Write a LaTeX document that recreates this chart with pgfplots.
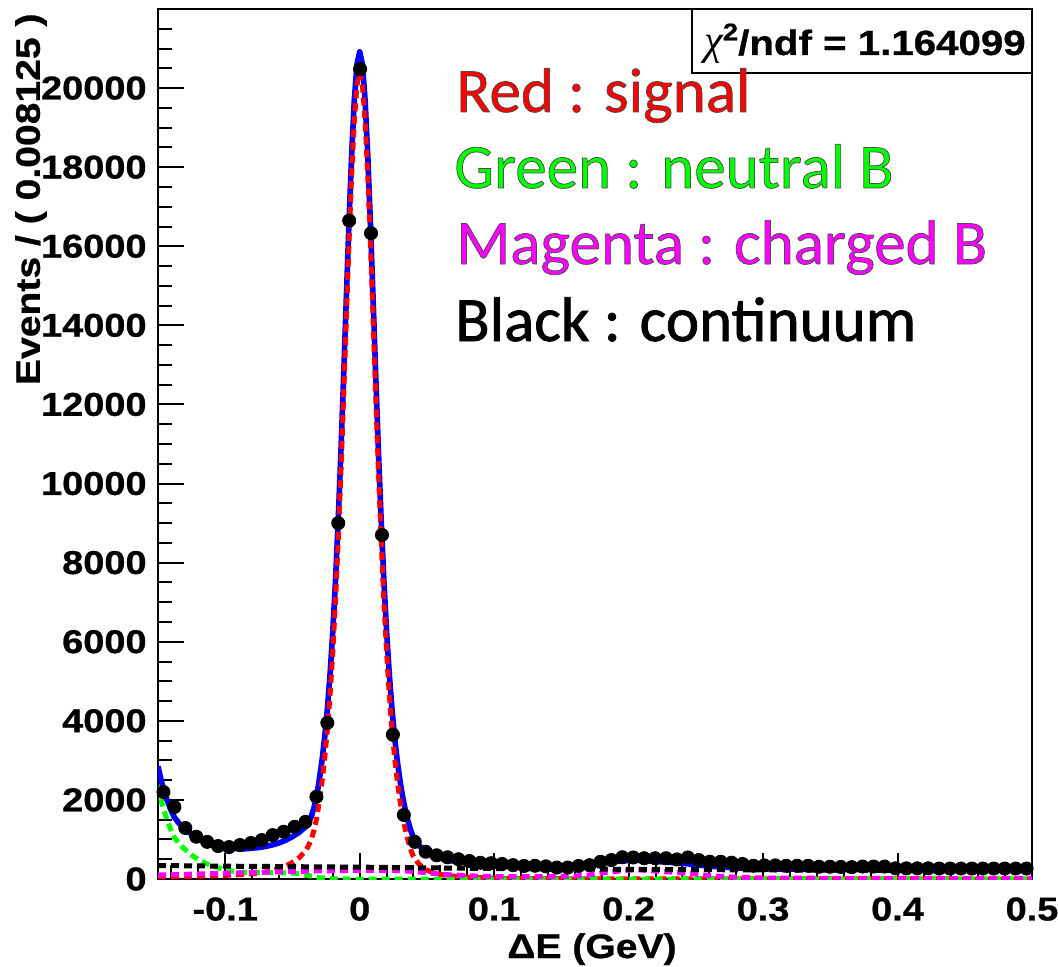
\documentclass[border=0pt]{standalone}
\usepackage{fontspec}
\usepackage{pgfplots}
\pgfplotsset{compat=1.18}
\newfontfamily\rootfont{Liberation Sans}[UprightFont={* Bold}, FakeStretch=1.15, FakeBold=0.8]
\newfontfamily\calfont{Carlito}[FakeBold=1.2]
\newfontfamily\greekfont{Liberation Serif}
\definecolor{rootred}{RGB}{255,0,0}
\definecolor{rootgreen}{RGB}{0,255,0}
\definecolor{rootmag}{RGB}{255,0,255}
\definecolor{rootblue}{RGB}{0,0,255}
\newcommand\outl{\special{pdf:literal 0.3 G}}
\begin{document}
\begin{tikzpicture}[x=1pt,y=1pt]
\useasboundingbox (0,0) rectangle (529,483);
\begin{axis}[
  at={(79pt,43.5pt)}, anchor=south west,
  width=437pt, height=435pt, scale only axis,
  xmin=-0.15, xmax=0.5, ymin=0, ymax=22000,
  scaled x ticks=false, scaled y ticks=false,
  axis line style={line width=1pt},
  tick align=inside, xtick pos=bottom, ytick pos=left,
  major tick length=13pt, minor tick length=7pt,
  every tick/.style={black, line width=1pt},
  xtick={-0.1,0,0.1,0.2,0.3,0.4,0.5},
  xticklabels={-0.1,0,0.1,0.2,0.3,0.4,0.5},
  minor xtick={-0.14,-0.12,-0.08,-0.06,-0.04,-0.02,0.02,0.04,0.06,0.08,0.12,0.14,0.16,0.18,0.22,0.24,0.26,0.28,0.32,0.34,0.36,0.38,0.42,0.44,0.46,0.48},
  ytick={0,2000,4000,6000,8000,10000,12000,14000,16000,18000,20000},
  yticklabels={0,2000,4000,6000,8000,10000,12000,14000,16000,18000,20000},
  minor ytick={500,1000,...,21500},
  xticklabel style={font=\rootfont\fontsize{16.5}{16.5}\selectfont, inner sep=0pt, anchor=north, yshift=-9pt},
  yticklabel style={font=\rootfont\fontsize{16.5}{16.5}\selectfont, inner sep=0pt, anchor=east, xshift=-5.5pt},
  clip=true,
]
% data
\addplot[only marks, mark=*, mark size=3.3pt, black, mark options={fill=black}] coordinates {
(-0.1459375,2200) (-0.1378125,1820) (-0.1296875,1290) (-0.1215625,1070) (-0.1134375,940)
(-0.1053125,833) (-0.0971875,808) (-0.0890625,859) (-0.0809375,909) (-0.0728125,985)
(-0.0646875,1110) (-0.0565625,1195) (-0.0484375,1320) (-0.0403125,1445) (-0.0321875,2080)
(-0.0240625,3950) (-0.0159375,9000) (-0.0078125,16650) (0.0003125,20480) (0.0084375,16330)
(0.0165625,8700) (0.0246875,3650) (0.0328125,1620) (0.0409375,940) (0.0490625,690)
(0.0571875,600) (0.0653125,550) (0.0734375,500) (0.0815625,455) (0.0896875,410)
(0.0978125,400) (0.1059375,380) (0.1140625,350) (0.1221875,330) (0.1303125,335)
(0.1384375,320) (0.1465625,290) (0.1546875,290) (0.1628125,330) (0.1709375,350)
(0.1790625,435) (0.1871875,480) (0.1953125,550) (0.2034375,545) (0.2115625,525)
(0.2196875,525) (0.2278125,525) (0.2359375,495) (0.2440625,545) (0.2521875,480)
(0.2603125,437) (0.2684375,437) (0.2765625,412) (0.2846875,380) (0.2928125,335)
(0.3009375,345) (0.3090625,345) (0.3171875,335) (0.3253125,335) (0.3334375,335)
(0.3415625,310) (0.3496875,310) (0.3578125,305) (0.3659375,300) (0.3740625,315)
(0.3821875,315) (0.3903125,315) (0.3984375,270) (0.4065625,270) (0.4146875,270)
(0.4228125,270) (0.4309375,265) (0.4390625,265) (0.4471875,265) (0.4553125,265)
(0.4634375,265) (0.4715625,265) (0.4796875,265) (0.4878125,265) (0.4959375,265)
};
% total fit
\addplot[rootblue, line width=2.8pt, line join=round] coordinates {
(-0.150,2850) (-0.147,2402) (-0.144,2075) (-0.141,1798) (-0.138,1571) (-0.135,1434)
(-0.132,1326) (-0.128,1211) (-0.124,1106) (-0.120,1020) (-0.115,937) (-0.110,874)
(-0.105,834) (-0.100,797) (-0.095,774) (-0.090,767) (-0.085,765) (-0.080,778)
(-0.075,796) (-0.070,824) (-0.065,862) (-0.060,913) (-0.055,982) (-0.050,1072)
(-0.045,1180) (-0.040,1328) (-0.038,1444) (-0.036,1582) (-0.034,1798) (-0.032,2085)
(-0.030,2521) (-0.028,3006) (-0.026,3596) (-0.024,4317) (-0.022,5197) (-0.020,6268)
(-0.018,7550) (-0.016,9058) (-0.014,10778) (-0.012,12665) (-0.010,14639) (-0.008,16570)
(-0.006,18312) (-0.004,19704) (-0.002,20605) (0.000,20918) (0.002,20606) (0.004,19704)
(0.006,18313) (0.008,16570) (0.010,14640) (0.012,12667) (0.014,10777) (0.016,9056)
(0.018,7545) (0.020,6262) (0.022,5188) (0.024,4304) (0.026,3574) (0.028,2976)
(0.030,2482) (0.032,2073) (0.034,1735) (0.036,1457) (0.038,1226) (0.040,1046)
(0.044,849) (0.048,713) (0.055,576) (0.065,477) (0.080,401) (0.100,349)
(0.120,331) (0.140,324) (0.160,333) (0.175,379) (0.185,422) (0.195,458)
(0.205,476) (0.215,458) (0.225,434) (0.235,411) (0.245,380) (0.255,343)
(0.265,312) (0.280,280) (0.300,256) (0.350,242) (0.400,232) (0.450,226) (0.500,220)
};
% signal
\addplot[rootred, line width=2.5pt, dash pattern=on 4pt off 2.5pt] coordinates {
(-0.150,60) (-0.140,62) (-0.130,66) (-0.120,72) (-0.110,80) (-0.100,92) (-0.095,100)
(-0.090,110) (-0.085,120) (-0.080,135) (-0.075,150) (-0.070,175) (-0.065,210)
(-0.060,260) (-0.055,330) (-0.050,420) (-0.045,540) (-0.040,720) (-0.038,850)
(-0.036,1000) (-0.034,1230) (-0.032,1530) (-0.030,1974) (-0.028,2466) (-0.026,3064)
(-0.024,3792) (-0.022,4676) (-0.020,5748) (-0.018,7031) (-0.016,8540) (-0.014,10261)
(-0.012,12149) (-0.010,14122) (-0.008,16053) (-0.006,17795) (-0.004,19187) (-0.002,20088)
(0.000,20400) (0.002,20088) (0.004,19187) (0.006,17795) (0.008,16053) (0.010,14122)
(0.012,12149) (0.014,10261) (0.016,8540) (0.018,7031) (0.020,5748) (0.022,4676)
(0.024,3792) (0.026,3064) (0.028,2466) (0.030,1974) (0.032,1570) (0.034,1238)
(0.036,965) (0.038,740) (0.040,565) (0.044,380) (0.048,260) (0.055,150) (0.065,85)
(0.080,45) (0.100,22) (0.120,12) (0.140,8) (0.160,6) (0.200,4) (0.300,1) (0.500,0)
};
% neutral B
\addplot[rootgreen, line width=2.5pt, dash pattern=on 4pt off 2.5pt] coordinates {
(-0.150,2350) (-0.147,1900) (-0.144,1570) (-0.141,1290) (-0.138,1060) (-0.135,920)
(-0.132,810) (-0.128,690) (-0.124,580) (-0.120,490) (-0.115,400) (-0.110,330)
(-0.105,280) (-0.100,235) (-0.095,200) (-0.090,180) (-0.085,165) (-0.080,160)
(-0.070,160) (-0.060,158) (-0.050,150) (-0.045,135) (-0.040,100) (-0.035,65)
(-0.030,35) (-0.025,15) (-0.020,5) (-0.010,0) (0.100,0) (0.200,0) (0.300,0) (0.400,0) (0.500,0)
};
% charged B
\addplot[rootmag, line width=2.5pt, dash pattern=on 4pt off 2.5pt] coordinates {
(-0.150,100) (-0.130,118) (-0.110,136) (-0.090,155) (-0.070,172) (-0.050,190)
(-0.030,205) (-0.010,215) (0.010,220) (0.030,215) (0.042,185) (0.055,140)
(0.065,110) (0.082,80) (0.100,62) (0.120,58) (0.140,60) (0.160,75) (0.170,100)
(0.180,150) (0.190,190) (0.200,225) (0.208,230) (0.216,210) (0.225,190) (0.234,170)
(0.243,145) (0.250,125) (0.260,85) (0.270,65) (0.280,45) (0.290,32) (0.300,25)
(0.350,18) (0.400,14) (0.450,12) (0.500,10)
};
% continuum
\addplot[black, line width=2.5pt, dash pattern=on 4pt off 2.5pt] coordinates {
(-0.150,340) (-0.100,325) (-0.050,312) (0.000,300) (0.050,282) (0.100,265)
(0.150,254) (0.200,245) (0.250,237) (0.300,230) (0.350,224) (0.400,218)
(0.450,214) (0.500,210)
};
\end{axis}
% axis titles
\node[font=\rootfont\fontsize{17}{17}\selectfont, anchor=base, inner sep=0pt] at (296,4) {ΔE (GeV)};
\node[font=\rootfont\fontsize{17}{17}\selectfont, rotate=90, anchor=east, inner sep=0pt] at (15.5,476.5) {Events / ( 0.008125 )};
% chi2 box
\draw[line width=0.7pt, fill=white] (346,446.5) rectangle (516,478.5);
\node[font=\rootfont\fontsize{17.5}{17.5}\selectfont, anchor=base, inner sep=0pt] at (432.5,455.5)
  {{\greekfont\itshape\fontsize{21}{21}\selectfont χ}\raisebox{0.42em}{\fontsize{12}{12}\selectfont 2}/ndf = 1.164099};
% annotations
\node[font=\calfont\fontsize{31.5}{31.5}\selectfont, anchor=base west, inner sep=0pt] at (228,427) {\color{rootred}\outl Red : signal};
\node[font=\calfont\fontsize{31.5}{31.5}\selectfont, anchor=base west, inner sep=0pt] at (227,389) {\color{rootgreen}\outl Green : neutral B};
\node[font=\calfont\fontsize{31.5}{31.5}\selectfont, anchor=base west, inner sep=0pt] at (228,351) {\color{rootmag}\outl Magenta : charged B};
\node[font=\calfont\fontsize{31.5}{31.5}\selectfont, anchor=base west, inner sep=0pt] at (227.5,312.5) {\color{black}Black : continuum};
\end{tikzpicture}
\end{document}
